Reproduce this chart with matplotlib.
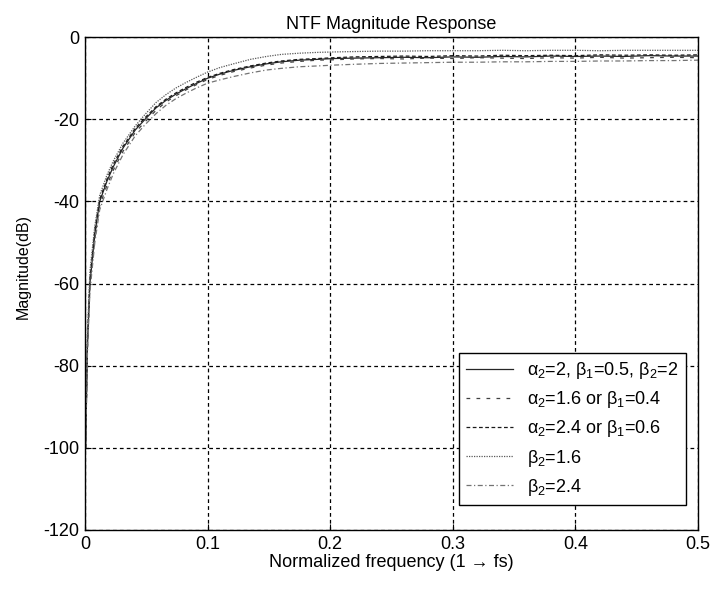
import matplotlib
matplotlib.use("Agg")
import matplotlib.pyplot as plt

plt.rcParams['font.family'] = ['Liberation Sans', 'DejaVu Sans']
plt.rcParams['mathtext.fontset'] = 'custom'
plt.rcParams['mathtext.rm'] = 'Liberation Sans'
plt.rcParams['mathtext.it'] = 'Liberation Sans'
plt.rcParams['axes.unicode_minus'] = False

# normalized frequency points
freq = [0.0005, 0.002, 0.004, 0.008, 0.012, 0.018, 0.023, 0.031, 0.041, 0.049,
        0.058, 0.066, 0.074, 0.082, 0.090, 0.100, 0.110, 0.121, 0.135, 0.148,
        0.160, 0.175, 0.190, 0.203, 0.22, 0.24, 0.26, 0.28, 0.30, 0.32,
        0.34, 0.36, 0.38, 0.40, 0.42, 0.44, 0.46, 0.48, 0.50]

# magnitude (dB) for each parameter set
mag_nominal = [-100, -75, -60, -48, -40, -35, -31.6, -27, -22.6, -20.0,
               -17.2, -15.4, -13.9, -12.6, -11.4, -10.0, -9.0, -8.1, -7.2, -6.5,
               -6.0, -5.6, -5.4, -5.2, -5.1, -5.0, -4.9, -5.0, -4.8, -4.9,
               -4.7, -4.8, -4.6, -4.7, -4.6, -4.7, -4.5, -4.6, -4.6]
mag_a16 = [-100, -76, -61, -49, -41, -36, -32.4, -27.8, -23.2, -20.6,
           -17.8, -15.8, -14.3, -12.9, -11.7, -10.3, -9.3, -8.4, -7.5, -6.8,
           -6.3, -5.9, -5.6, -5.5, -5.3, -5.2, -5.3, -5.1, -5.2, -5.0,
           -5.1, -5.2, -5.0, -5.1, -4.9, -5.1, -5.0, -4.9, -5.0]
mag_a24 = [-100, -74, -59, -47, -39.5, -34.5, -31.0, -26.6, -22.2, -19.6,
           -16.9, -15.1, -13.6, -12.3, -11.1, -9.8, -8.8, -7.9, -7.0, -6.3,
           -5.8, -5.4, -5.2, -5.0, -4.8, -4.7, -4.6, -4.7, -4.5, -4.6,
           -4.4, -4.5, -4.4, -4.5, -4.3, -4.4, -4.3, -4.4, -4.3]
mag_b16 = [-100, -72, -57, -46, -38.5, -33.5, -30.2, -25.8, -21.6, -18.8,
           -15.9, -14.0, -12.4, -11.1, -9.9, -8.5, -7.4, -6.5, -5.4, -4.7,
           -4.2, -3.9, -3.7, -3.6, -3.5, -3.4, -3.4, -3.3, -3.3, -3.3,
           -3.2, -3.3, -3.2, -3.2, -3.3, -3.2, -3.2, -3.2, -3.2]
mag_b24 = [-100, -77, -62, -50, -42, -37, -33.3, -28.6, -24.0, -21.3,
           -18.6, -16.6, -15.0, -13.7, -12.5, -11.2, -10.4, -9.6, -8.7, -8.0,
           -7.6, -7.2, -7.0, -6.8, -6.6, -6.4, -6.3, -6.2, -6.1, -6.1,
           -6.0, -6.0, -5.9, -5.9, -5.8, -5.8, -5.7, -5.7, -5.6]

labels = [r'$\alpha_2$=2, $\beta_1$=0.5, $\beta_2$=2',
          r'$\alpha_2$=1.6 or $\beta_1$=0.4',
          r'$\alpha_2$=2.4 or $\beta_1$=0.6',
          r'$\beta_2$=1.6',
          r'$\beta_2$=2.4']

xticks = [0, 0.1, 0.2, 0.3, 0.4, 0.5]
xticklabels = ['0', '0.1', '0.2', '0.3', '0.4', '0.5']
yticks = [0, -20, -40, -60, -80, -100, -120]
yticklabels = ['0', '-20', '-40', '-60', '-80', '-100', '-120']

FS = 13

fig = plt.figure(figsize=(7.24, 5.90), dpi=100)
ax = fig.add_axes([0.1174, 0.1017, 0.8466, 0.8353])

series = [mag_nominal, mag_a16, mag_a24, mag_b16, mag_b24]
styles = ['-', (0, (3, 5)), (0, (3, 2)), (0, (1, 1)), (0, (4, 2, 1, 2))]
colors = ['0.15', '0.25', '0.1', '0.35', '0.45']
for mag, ls, c, lab in zip(series, styles, colors, labels):
    ax.plot(freq, mag, linestyle=ls, color=c, linewidth=0.9, label=lab)

ax.set_xlim(0, 0.5)
ax.set_ylim(-120, 0)
ax.set_xticks(xticks)
ax.set_xticklabels(xticklabels)
ax.set_yticks(yticks)
ax.set_yticklabels(yticklabels)
ax.tick_params(direction='in', length=4, labelsize=FS, colors='black', pad=4)
ax.grid(True, color='black', linestyle=(0, (3, 2.5)), linewidth=0.9)
for sp in ax.spines.values():
    sp.set_color('black')
    sp.set_linewidth(1.0)

ax.set_title('NTF Magnitude Response', fontsize=FS, pad=6)
ax.set_xlabel('Normalized frequency (1 \u2192 fs)', fontsize=FS, labelpad=1)
ax.set_ylabel('Magnitude(dB)', fontsize=11.5)
ax.yaxis.set_label_coords(-0.088, 0.535)

leg = ax.legend(loc='lower right', bbox_to_anchor=(0.980, 0.051),
                borderaxespad=0, fontsize=FS, frameon=True, fancybox=False,
                framealpha=1, edgecolor='black', handlelength=2.6,
                labelspacing=0.45, borderpad=0.4, handletextpad=0.8)
leg.get_frame().set_linewidth(1.0)

fig.savefig('out.png', dpi=100)
